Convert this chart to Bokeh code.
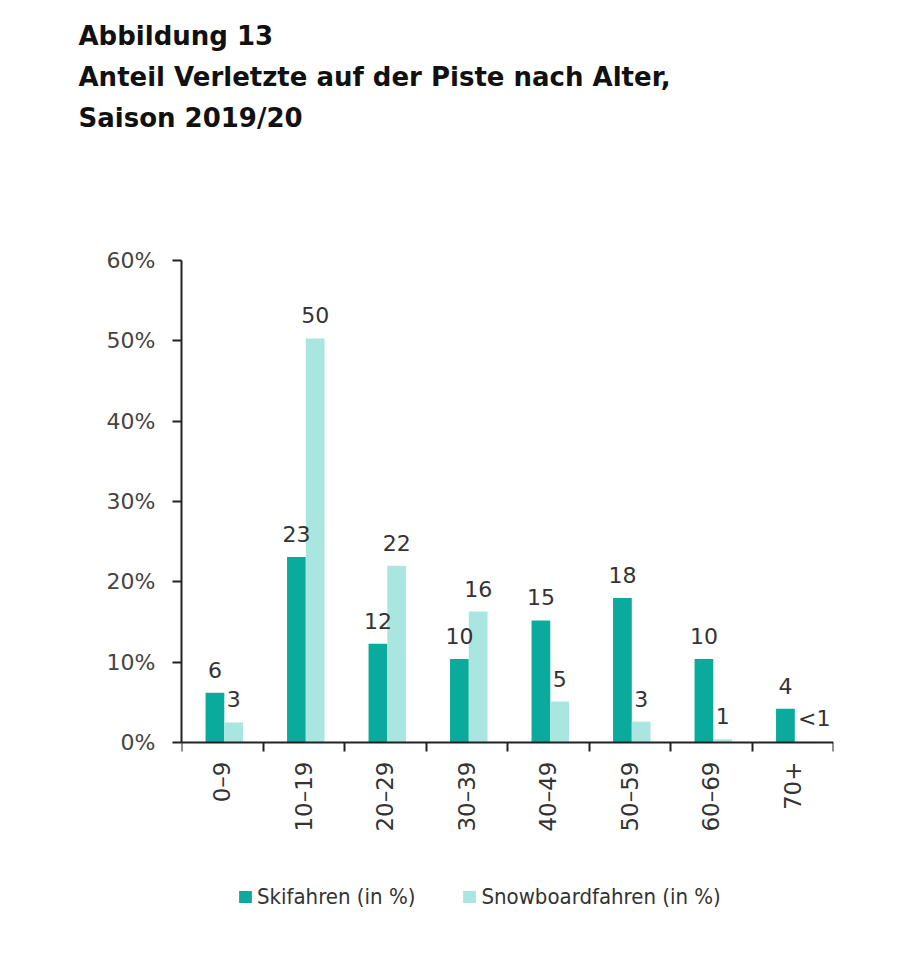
import math
from bokeh.plotting import figure
from bokeh.models import (ColumnDataSource, Range1d, FixedTicker, Title, Legend, LegendItem)
from bokeh.core.properties import value
from bokeh.embed import file_html
from bokeh.resources import INLINE

# ---- data ----
categories = ["0–9", "10–19", "20–29", "30–39", "40–49", "50–59", "60–69", "70+"]
ski_values = [6.2, 23.1, 12.3, 10.4, 15.2, 18.0, 10.4, 4.2]
snow_values = [2.5, 50.3, 22.0, 16.3, 5.1, 2.6, 0.4, 0.1]
ski_labels = ["6", "23", "12", "10", "15", "18", "10", "4"]
snow_labels = ["3", "50", "22", "16", "5", "3", "1", "<1"]
y_ticks = [0, 10, 20, 30, 40, 50, 60]
y_tick_labels = ["0%", "10%", "20%", "30%", "40%", "50%", "60%"]
series_names = ["Skifahren (in %)", "Snowboardfahren (in %)"]
title_lines = ["Abbildung 13", "Anteil Verletzte auf der Piste nach Alter,", "Saison 2019/20"]

SKI = "#0aab9d"
SNOW = "#a8e6df"
TXT = "#333333"
NUM_FONT = "DejaVu Sans"

n = len(categories)
centers = [i + 0.5 for i in range(n)]
bounds = [float(i) for i in range(n + 1)]
ski_x = [c - 0.09 for c in centers]
snow_x = [c + 0.14 for c in centers]

ski_src = ColumnDataSource(dict(x=ski_x, top=ski_values, label=ski_labels,
                                dx=[0] * n))
snow_src = ColumnDataSource(dict(x=snow_x, top=snow_values, label=snow_labels,
                                 dx=[10 if s.startswith("<") else 0 for s in snow_labels]))

# frame extends below the value axis to hold the category labels and the legend
Y_TOP = 60
PX_PER_UNIT = 482 / Y_TOP
FRAME_H = 665
Y_BOTTOM = Y_TOP - FRAME_H / PX_PER_UNIT

p = figure(output_backend="svg", toolbar_location=None,
           x_range=Range1d(0, n), y_range=Range1d(Y_BOTTOM, Y_TOP),
           frame_width=652, frame_height=FRAME_H,
           min_border_left=181, min_border_right=67, min_border_top=0,
           min_border_bottom=0)
p.outline_line_color = None
p.grid.visible = False
p.background_fill_color = "white"
p.border_fill_color = "white"

r_ski = p.vbar(x="x", top="top", bottom=0, width=0.23, source=ski_src, fill_color=SKI, line_color=None)
r_snow = p.vbar(x="x", top="top", bottom=0, width=0.23, source=snow_src, fill_color=SNOW, line_color=None)

for src in (ski_src, snow_src):
    p.text(x="x", y="top", text="label", source=src, text_align="center",
           text_baseline="alphabetic", x_offset="dx", y_offset=-23,
           text_font=value(NUM_FONT), text_font_size="22px", text_color=TXT)

# y axis
ya = p.yaxis[0]
ya.ticker = FixedTicker(ticks=y_ticks)
ya.bounds = (0, Y_TOP)
ya.major_label_overrides = {t: l for t, l in zip(y_ticks, y_tick_labels)}
ya.axis_line_width = 2
ya.axis_line_color = "#222222"
ya.major_tick_line_width = 2
ya.major_tick_line_color = "#222222"
ya.major_tick_in = 0
ya.major_tick_out = 9
ya.minor_tick_line_color = None
ya.major_label_text_font = NUM_FONT
ya.major_label_text_font_size = "22px"
ya.major_label_text_color = "#444444"
ya.major_label_standoff = 17

# x axis, drawn at value 0
xa = p.xaxis[0]
xa.fixed_location = 0
xa.ticker = FixedTicker(ticks=centers, minor_ticks=bounds)
xa.major_label_overrides = {c: l for c, l in zip(centers, categories)}
xa.axis_line_width = 2
xa.axis_line_color = "#222222"
xa.major_tick_line_color = None
xa.major_tick_in = 0
xa.major_tick_out = 0
xa.minor_tick_line_color = "#222222"
xa.minor_tick_line_width = 2
xa.minor_tick_in = 0
xa.minor_tick_out = 9
xa.major_label_orientation = math.pi / 2
xa.major_label_text_font = NUM_FONT
xa.major_label_text_font_size = "23px"
xa.major_label_text_color = TXT
xa.major_label_standoff = 10

# titles (added closest to the frame first; standoff adds space on the outer side)
offs = 78 - 181
def mk_title(txt, standoff, size="26px"):
    return Title(text=txt, align="left", offset=offs, standoff=standoff,
                 text_font="DejaVu Sans", text_font_size=size, text_font_style="bold",
                 text_color="#111111")
p.add_layout(mk_title(" ", 110, "10px"), "above")
p.add_layout(mk_title(title_lines[2], 9), "above")
p.add_layout(mk_title(title_lines[1], 9), "above")
p.add_layout(mk_title(title_lines[0], 9), "above")
p.add_layout(mk_title(" ", 1, "10px"), "above")

legend = Legend(items=[LegendItem(label=series_names[0], renderers=[r_ski]),
                       LegendItem(label=series_names[1], renderers=[r_snow])],
                orientation="horizontal", location=(56, 16),
                label_text_font="Liberation Sans Narrow, DejaVu Sans Condensed, Roboto",
                label_text_font_size="22px", label_text_color=TXT,
                glyph_width=16, glyph_height=15, label_standoff=4, spacing=46,
                border_line_color=None, background_fill_alpha=0, margin=0, padding=0)
p.add_layout(legend, "center")

open("out.html", "w").write(file_html(p, INLINE))
